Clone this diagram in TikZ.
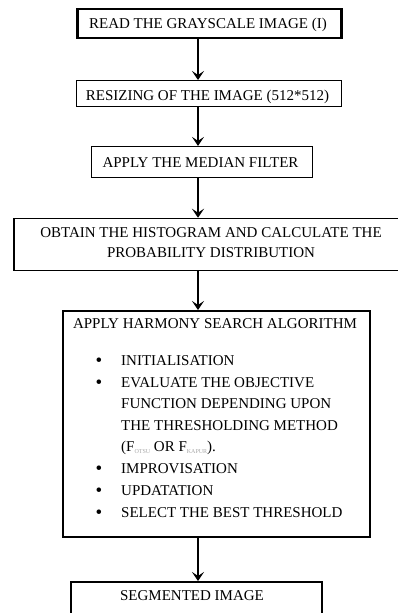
\documentclass[tikz,border=0pt]{standalone}
\usepackage{fontspec}
\setmainfont{Liberation Serif}
\usetikzlibrary{arrows.meta}
\begin{document}
\begin{tikzpicture}[x=1pt,y=-1pt,
  box/.style={draw=black, rectangle, inner sep=0pt},
  txt/.style={inner sep=0pt, font=\fontsize{15}{18}\selectfont, anchor=base},
  itm/.style={inner sep=0pt, font=\fontsize{15}{18}\selectfont, anchor=base west},
  bul/.style={inner sep=0pt, font=\fontsize{19}{20}\selectfont, anchor=base},
  arr/.style={line width=1.5pt, -{Stealth[length=9pt,width=12pt,inset=4pt]}}
]
\clip (0,0) rectangle (398,613);
\coordinate (ax) at (198,0);
% boxes
\node[box, line width=2.5pt, minimum width=264pt, minimum height=29pt] (b1) at (209.5,23.5) {};
\node[box, line width=1pt, minimum width=265pt, minimum height=26pt] (b2) at (209,93.5) {};
\node[box, line width=1.2pt, minimum width=221pt, minimum height=31pt] (b3) at (202,162) {};
\node[box, line width=1.5pt, minimum width=386pt, minimum height=52pt] (b4) at (207,244.5) {};
\node[box, line width=2pt, minimum width=307pt, minimum height=226pt] (b5) at (216.5,424) {};
\node[box, line width=2pt, minimum width=251pt, minimum height=56pt] (b6) at (196,610) {};
% texts
\node[txt] (t1) at (208,28) {READ THE GRAYSCALE IMAGE (I)};
\node[txt] (t2) at (207.5,100) {RESIZING OF THE IMAGE (512*512)};
\node[txt] (t3) at (200.5,167) {APPLY THE MEDIAN FILTER};
\node[txt] (t4a) at (211,237) {OBTAIN THE HISTOGRAM AND CALCULATE THE};
\node[txt] (t4b) at (211,257) {PROBABILITY DISTRIBUTION};
\node[txt] (t5) at (215,328) {APPLY HARMONY SEARCH ALGORITHM};
\node[itm] (l1) at (121,365) {INITIALISATION};
\node[itm] (l2) at (121,387) {EVALUATE THE OBJECTIVE};
\node[itm] (l3) at (121,408) {FUNCTION DEPENDING UPON};
\node[itm] (l4) at (121,430) {THE THRESHOLDING METHOD};
\node[itm] (l5) at (121,451) {(F\raisebox{-2.5pt}{\fontsize{6}{6}\selectfont\color{black!35}OTSU} OR F\raisebox{-2.5pt}{\fontsize{6}{6}\selectfont\color{black!35}KAPUR}).};
\node[itm] (l6) at (121,473) {IMPROVISATION};
\node[itm] (l7) at (121,495) {UPDATATION};
\node[itm] (l8) at (121,517) {SELECT THE BEST THRESHOLD};
\node[bul] (p1) at (99,366.5) {\textbullet};
\node[bul] (p2) at (99,388.5) {\textbullet};
\node[bul] (p6) at (99,474.5) {\textbullet};
\node[bul] (p7) at (99,496.5) {\textbullet};
\node[bul] (p8) at (99,518.5) {\textbullet};
\node[txt] (t6) at (192,600) {SEGMENTED IMAGE};
% arrows
\draw[arr] (b1.south -| ax) -- (b2.north -| ax);
\draw[arr] (b2.south -| ax) -- (b3.north -| ax);
\draw[arr] (b3.south -| ax) -- (b4.north -| ax);
\draw[arr] (b4.south -| ax) -- (b5.north -| ax);
\draw[arr] (b5.south -| ax) -- (b6.north -| ax);
\end{tikzpicture}
\end{document}
